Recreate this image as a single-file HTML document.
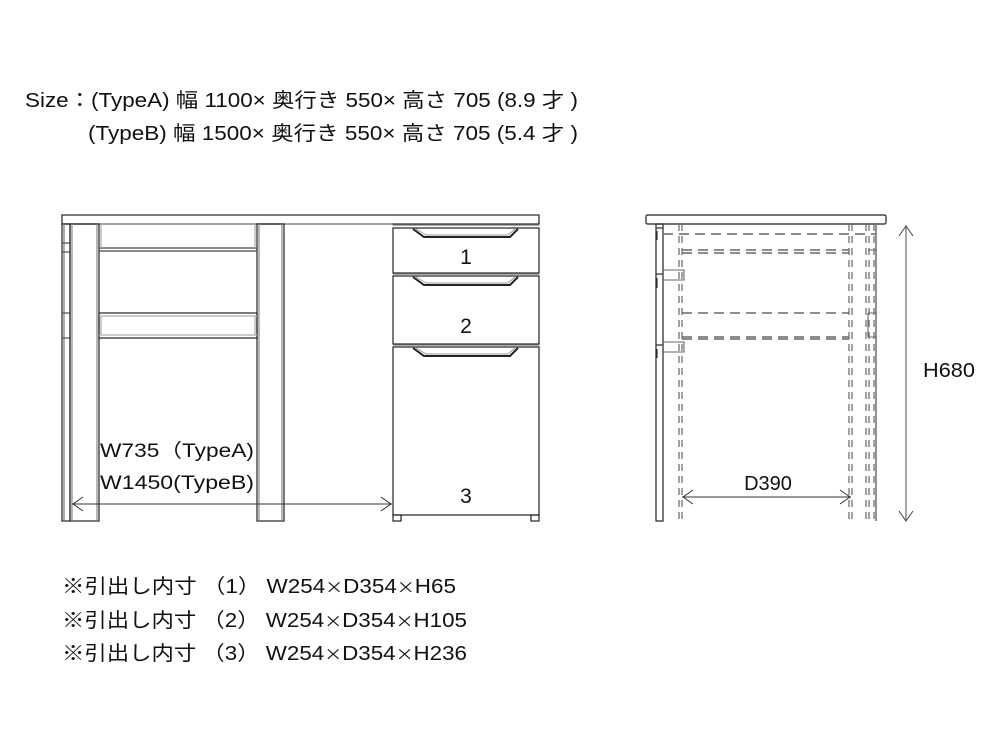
<!DOCTYPE html>
<html><head><meta charset="utf-8"><style>
html,body{margin:0;padding:0;background:#fff;}
svg{display:block;}
text{font-family:"Liberation Sans","Noto Sans CJK JP",sans-serif;fill:#111;}
.j{font-family:"Noto Sans CJK JP",sans-serif;font-size:16px;}
</style></head><body>
<svg width="1000" height="750" viewBox="0 0 1000 750" xmlns="http://www.w3.org/2000/svg">
<text x="25" y="107" font-size="20" textLength="553" lengthAdjust="spacingAndGlyphs">Size：(TypeA) 幅 1100× 奥行き 550× 高さ 705 (8.9 才 )</text>
<text x="88" y="140" font-size="20" textLength="490" lengthAdjust="spacingAndGlyphs">(TypeB) 幅 1500× 奥行き 550× 高さ 705 (5.4 才 )</text>

<g fill="none" stroke="#222" stroke-width="1.2">
<rect x="62" y="215" width="477" height="9"/>
<line x1="62" y1="224" x2="392" y2="224" stroke="#888"/>
<rect x="62" y="224" width="8" height="297"/>
<line x1="64" y1="224" x2="64" y2="521" stroke="#777"/>
<path d="M62 243 H70 M62 252 H70 M62 313 H70 M62 338 H70" stroke="#555"/>
<rect x="70" y="224" width="29" height="297"/>
<line x1="72" y1="224" x2="72" y2="521" stroke="#888"/>
<line x1="97" y1="224" x2="97" y2="521" stroke="#888"/>
<rect x="257" y="224" width="27" height="297"/>
<line x1="259" y1="224" x2="259" y2="521" stroke="#888"/>
<line x1="282" y1="224" x2="282" y2="521" stroke="#888"/>
<path d="M99 248 H257 M99 251 H257" stroke="#444"/>
<rect x="99" y="313" width="158" height="25"/>
<path d="M99 316 H257 M99 335 H257" stroke="#aaa"/>
<path d="M101 224 V248 M255 224 V248 M101 316 V335 M255 316 V335" stroke="#aaa"/>
<rect x="393" y="228" width="146" height="45"/>
<rect x="393" y="276" width="146" height="68"/>
<rect x="393" y="347" width="146" height="168"/>
<path d="M393 225 H539 M393 274 H539 M393 345 H539" stroke="#777"/>
<rect x="393" y="515" width="8" height="6"/>
<rect x="531" y="515" width="8" height="6"/>
</g>
<g fill="none" stroke="#222">
<path d="M413 229 L424 237 H510 L518 229" stroke-width="2"/>
<path d="M416 229 L426 235 H508 L515 229" stroke="#999" stroke-width="1"/>
<path d="M413 277 L424 285 H510 L518 277" stroke-width="2"/>
<path d="M416 277 L426 283 H508 L515 277" stroke="#999" stroke-width="1"/>
<path d="M413 348 L424 356 H510 L518 348" stroke-width="2"/>
<path d="M416 348 L426 354 H508 L515 348" stroke="#999" stroke-width="1"/>
</g>
<text x="466" y="264" font-size="21" text-anchor="middle">1</text>
<text x="466" y="333" font-size="21" text-anchor="middle">2</text>
<text x="466" y="503" font-size="21" text-anchor="middle">3</text>
<g fill="none" stroke="#333" stroke-width="1">
<line x1="72" y1="504" x2="392" y2="504"/>
<path d="M83 497 L73 504 L83 511 M381 497 L391 504 L381 511"/>
</g>
<text x="100" y="457" font-size="19" textLength="154" lengthAdjust="spacingAndGlyphs">W735（TypeA)</text>
<text x="100" y="489" font-size="19" textLength="154" lengthAdjust="spacingAndGlyphs">W1450(TypeB)</text>

<g fill="none" stroke="#222" stroke-width="1.2">
<rect x="646" y="215" width="240" height="9" rx="1.5"/>
<rect x="656" y="224" width="7" height="297"/>
<path d="M656 228 H663 M656 274 H663 M656 345 H663" stroke="#333"/>
<path d="M657 231 V240 M657 278 V288 M657 349 V358" stroke="#333"/>
<line x1="876" y1="224" x2="876" y2="521" stroke="#777" stroke-width="1.6"/>
</g>
<g fill="none" stroke="#666" stroke-width="1.2" stroke-dasharray="7,5">
<path d="M679 224 V521 M682 224 V521 M849 224 V521 M852 224 V521 M866 224 V521 M869 224 V521 M874 224 V521"/>
</g>
<g fill="none" stroke="#666" stroke-width="1.5" stroke-dasharray="10,6">
<path d="M663 234 H876"/>
<path d="M682 250 H849 M682 253 H849"/>
<path d="M682 313 H849 M682 337 H849 M682 339 H849"/>
</g>
<g fill="none" stroke="#666" stroke-width="1.1">
<path d="M663 270 H684 V280 H663"/>
<path d="M663 342 H684 V352 H663"/>
<path d="M868 250 H877 M868 313 V337 M868 313 H877 M868 337 H877"/>
</g>
<g fill="none" stroke="#333" stroke-width="1">
<line x1="682" y1="497" x2="851" y2="497"/>
<path d="M693 490 L683 497 L693 504 M840 490 L850 497 L840 504"/>
</g>
<text x="768" y="490" font-size="20" text-anchor="middle">D390</text>
<g fill="none" stroke="#444" stroke-width="1">
<line x1="906" y1="226" x2="906" y2="521" stroke="#888" stroke-width="1.5"/>
<path d="M899 236 L906 226 L913 236 M899 511 L906 521 L913 511"/>
</g>
<text x="923" y="377" font-size="20" textLength="52" lengthAdjust="spacingAndGlyphs">H680</text>

<text x="62" y="593" font-size="20" textLength="394" lengthAdjust="spacingAndGlyphs">※引出し内寸 （1） W254<tspan class="j">×</tspan>D354<tspan class="j">×</tspan>H65</text>
<text x="62" y="627" font-size="20" textLength="405" lengthAdjust="spacingAndGlyphs">※引出し内寸 （2） W254<tspan class="j">×</tspan>D354<tspan class="j">×</tspan>H105</text>
<text x="62" y="660" font-size="20" textLength="405" lengthAdjust="spacingAndGlyphs">※引出し内寸 （3） W254<tspan class="j">×</tspan>D354<tspan class="j">×</tspan>H236</text>
</svg>
</body></html>
